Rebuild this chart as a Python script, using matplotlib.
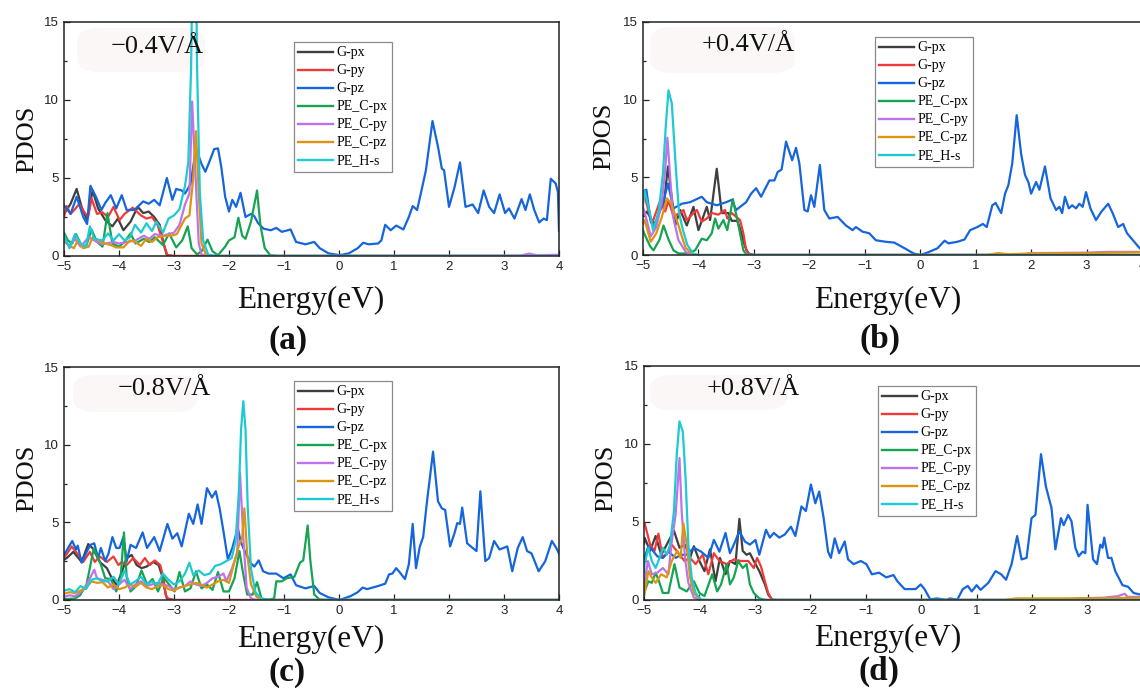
import matplotlib
matplotlib.use("Agg")
import matplotlib.pyplot as plt
from matplotlib.ticker import MultipleLocator
from matplotlib.patches import FancyBboxPatch
from matplotlib.lines import Line2D

W, H = 1140, 690

SERIES = ["G-px", "G-py", "G-pz", "PE_C-px", "PE_C-py", "PE_C-pz", "PE_H-s"]
COLORS = ["#3f3f3f", "#f03a3a", "#1565dc", "#16a352", "#bf73ea", "#dc9512", "#1fc9d2"]
FIELDS = ["\u22120.4V/\u00c5", "+0.4V/\u00c5", "\u22120.8V/\u00c5", "+0.8V/\u00c5"]
PANEL_LABELS = ["(a)", "(b)", "(c)", "(d)"]
XTICKS = [-5, -4, -3, -2, -1, 0, 1, 2, 3, 4]
YTICKS = [0, 5, 10, 15]
XLABEL = "Energy(eV)"
YLABEL = "PDOS"

# ---------------- panel (a) : -0.4 V/A ----------------
A_GPX = [(-5, 2.7), (-4.88, 3.35), (-4.77, 4.3), (-4.68, 3.15), (-4.58, 2.3), (-4.48, 4.2), (-4.38, 3.05),
         (-4.25, 2.3), (-4.12, 1.9), (-4.02, 2.4), (-3.92, 1.65), (-3.79, 2.2), (-3.66, 3.15), (-3.56, 2.75),
         (-3.46, 2.85), (-3.36, 2.5), (-3.26, 2.0), (-3.19, 0.8), (-3.13, 0.05), (-3.0, 0), (4.0, 0)]
A_GPY = [(-5, 2.5), (-4.95, 3.2), (-4.88, 2.7), (-4.8, 3.0), (-4.72, 3.35), (-4.65, 2.9), (-4.56, 2.5),
         (-4.5, 3.7), (-4.4, 2.7), (-4.3, 2.8), (-4.2, 2.5), (-4.1, 3.15), (-3.99, 2.3), (-3.9, 2.7),
         (-3.75, 3.1), (-3.6, 2.6), (-3.5, 2.4), (-3.4, 2.5), (-3.3, 2.0), (-3.2, 0.9), (-3.12, 0.05),
         (-3.0, 0), (4.0, 0)]
A_GPZ = [(-5, 3.25), (-4.88, 2.7), (-4.77, 3.8), (-4.65, 2.5), (-4.58, 2.05), (-4.52, 4.5), (-4.42, 3.8),
         (-4.32, 2.95), (-4.25, 3.4), (-4.15, 3.9), (-4.05, 3.05), (-3.95, 3.9), (-3.86, 2.95), (-3.72, 2.95),
         (-3.56, 3.5), (-3.46, 3.35), (-3.36, 3.6), (-3.26, 3.25), (-3.13, 5.0), (-3.03, 3.6), (-2.96, 4.3),
         (-2.86, 4.2), (-2.8, 4.0), (-2.7, 4.6), (-2.6, 6.9), (-2.5, 5.9), (-2.43, 5.4), (-2.35, 6.1),
         (-2.27, 6.85), (-2.2, 6.9), (-2.14, 5.7), (-2.07, 3.8), (-2.0, 2.85), (-1.94, 3.6), (-1.87, 3.15),
         (-1.79, 4.05), (-1.7, 2.5), (-1.6, 2.7), (-1.54, 2.55), (-1.47, 2.1), (-1.37, 1.75), (-1.24, 1.65),
         (-1.14, 1.8), (-1.04, 1.55), (-0.88, 1.7), (-0.78, 0.9), (-0.61, 0.75), (-0.45, 0.9), (-0.35, 0.5),
         (-0.19, 0.17), (0.01, 0.05), (0.18, 0.17), (0.34, 0.5), (0.44, 0.85), (0.54, 0.75), (0.71, 0.8),
         (0.77, 1.0), (0.84, 2.0), (0.94, 1.65), (1.04, 1.95), (1.17, 1.7), (1.27, 2.5), (1.34, 3.2),
         (1.42, 2.95), (1.5, 4.2), (1.58, 5.5), (1.7, 8.65), (1.8, 7.0), (1.87, 5.6), (1.91, 5.5),
         (2.0, 3.15), (2.1, 4.4), (2.2, 6.0), (2.3, 3.15), (2.43, 3.3), (2.53, 2.75), (2.63, 4.2),
         (2.73, 3.15), (2.82, 2.75), (2.92, 3.95), (3.02, 2.75), (3.09, 3.05), (3.19, 2.4), (3.32, 3.65),
         (3.39, 2.95), (3.47, 3.95), (3.55, 2.95), (3.64, 2.15), (3.72, 2.4), (3.78, 2.3), (3.85, 4.95),
         (3.94, 4.65), (3.98, 4.1), (4.0, 1.6)]
A_CPX = [(-5, 1.5), (-4.93, 1.0), (-4.85, 0.8), (-4.78, 1.4), (-4.7, 0.8), (-4.6, 0.6), (-4.5, 1.7),
         (-4.4, 0.9), (-4.3, 0.6), (-4.21, 2.75), (-4.12, 0.8), (-4.0, 0.6), (-3.9, 0.9), (-3.79, 1.45),
         (-3.7, 0.8), (-3.55, 1.1), (-3.45, 0.9), (-3.35, 1.2), (-3.2, 0.7), (-3.09, 1.45), (-2.96, 0.55),
         (-2.85, 1.0), (-2.75, 1.9), (-2.68, 0.5), (-2.58, 0.1), (-2.5, 0.3), (-2.39, 1.05), (-2.3, 0.3),
         (-2.2, 0.05), (-2.07, 0.6), (-2.0, 1.0), (-1.9, 1.2), (-1.83, 2.45), (-1.76, 1.3), (-1.7, 1.1),
         (-1.6, 2.2), (-1.49, 4.2), (-1.43, 2.0), (-1.35, 0.5), (-1.25, 0.05), (-1.1, 0), (4.0, 0)]
A_CPY = [(-5, 0.9), (-4.9, 0.7), (-4.8, 1.1), (-4.7, 0.6), (-4.55, 1.2), (-4.4, 0.9), (-4.3, 0.75),
         (-4.1, 0.9), (-4.0, 0.8), (-3.85, 0.9), (-3.7, 1.0), (-3.55, 1.3), (-3.45, 1.1), (-3.35, 1.4),
         (-3.2, 1.3), (-3.0, 1.5), (-2.9, 2.0), (-2.8, 3.3), (-2.72, 4.0), (-2.67, 9.9), (-2.62, 6.0),
         (-2.55, 0.8), (-2.5, 0.1), (-2.4, 0), (3.3, 0.02), (3.45, 0.15), (3.6, 0.05), (4.0, 0.08)]
A_CPZ = [(-5, 1.1), (-4.92, 0.7), (-4.82, 0.5), (-4.75, 1.0), (-4.65, 0.5), (-4.55, 0.6), (-4.48, 1.2),
         (-4.38, 1.0), (-4.25, 0.8), (-4.15, 0.7), (-4.05, 0.55), (-3.92, 0.55), (-3.8, 1.0), (-3.7, 0.9),
         (-3.6, 0.65), (-3.5, 1.1), (-3.4, 0.9), (-3.3, 1.2), (-3.15, 1.3), (-3.05, 1.3), (-2.95, 1.4),
         (-2.8, 2.4), (-2.72, 2.6), (-2.65, 5.0), (-2.6, 8.0), (-2.55, 4.0), (-2.5, 0.8), (-2.42, 0.1),
         (-2.3, 0), (4.0, 0)]
A_HS = [(-5, 1.3), (-4.9, 0.5), (-4.8, 1.4), (-4.7, 0.8), (-4.6, 0.6), (-4.53, 1.9), (-4.45, 1.1),
        (-4.3, 1.0), (-4.2, 1.45), (-4.1, 1.0), (-4.0, 1.4), (-3.9, 1.0), (-3.8, 1.2), (-3.71, 2.0),
        (-3.6, 1.5), (-3.5, 2.1), (-3.4, 1.6), (-3.32, 2.2), (-3.2, 1.5), (-3.1, 2.4), (-3.0, 2.6),
        (-2.9, 3.0), (-2.8, 4.5), (-2.74, 6.0), (-2.69, 12.0), (-2.65, 22.0), (-2.61, 22.0), (-2.58, 12.0),
        (-2.53, 4.0), (-2.47, 1.0), (-2.38, 0.1), (-2.25, 0), (4.0, 0)]

# ---------------- panel (b) : +0.4 V/A ----------------
B_GPX = [(-5, 2.5), (-4.93, 2.8), (-4.85, 2.3), (-4.78, 2.0), (-4.7, 2.8), (-4.62, 3.4), (-4.55, 5.7),
         (-4.42, 1.9), (-4.33, 2.9), (-4.21, 1.9), (-4.09, 3.1), (-4.0, 1.6), (-3.85, 3.1), (-3.79, 2.25),
         (-3.67, 5.55), (-3.58, 2.7), (-3.46, 2.7), (-3.4, 2.2), (-3.3, 2.2), (-3.25, 1.7), (-3.16, 0.55),
         (-3.1, 0.1), (-3.0, 0), (4.0, 0)]
B_GPY = [(-5, 3.75), (-4.96, 3.65), (-4.84, 2.0), (-4.69, 3.5), (-4.6, 2.8), (-4.54, 3.5), (-4.45, 2.5),
         (-4.33, 2.7), (-4.27, 2.9), (-4.21, 2.25), (-4.09, 2.7), (-4.03, 2.9), (-3.94, 2.15), (-3.85, 2.35),
         (-3.76, 2.7), (-3.64, 2.6), (-3.52, 2.9), (-3.48, 2.35), (-3.4, 2.7), (-3.25, 2.25), (-3.19, 1.4),
         (-3.14, 0.3), (-3.08, 0.05), (-3.0, 0), (4.0, 0)]
B_GPZ = [(-5, 4.1), (-4.94, 4.2), (-4.86, 2.15), (-4.79, 1.8), (-4.72, 2.7), (-4.65, 3.2), (-4.55, 4.6),
         (-4.45, 3.0), (-4.3, 3.3), (-4.15, 3.4), (-3.94, 3.75), (-3.85, 3.4), (-3.67, 3.2), (-3.5, 3.4),
         (-3.4, 3.55), (-3.32, 2.9), (-3.14, 3.4), (-3.05, 3.95), (-2.96, 4.3), (-2.87, 3.75), (-2.72, 4.8),
         (-2.63, 4.8), (-2.57, 5.35), (-2.5, 5.5), (-2.42, 7.3), (-2.31, 6.1), (-2.24, 6.9), (-2.18, 5.9),
         (-2.09, 2.9), (-2.03, 2.8), (-1.97, 3.85), (-1.91, 3.1), (-1.81, 5.8), (-1.73, 2.9), (-1.64, 2.35),
         (-1.49, 2.45), (-1.34, 1.9), (-1.22, 1.6), (-1.16, 1.8), (-1.04, 1.5), (-0.92, 1.4), (-0.8, 0.95),
         (-0.62, 0.85), (-0.47, 0.8), (-0.28, 0.43), (-0.12, 0.1), (0.0, 0.0), (0.14, 0.17), (0.31, 0.43),
         (0.44, 0.92), (0.51, 0.75), (0.67, 0.85), (0.8, 1.0), (0.9, 1.6), (1.03, 1.8), (1.13, 2.0),
         (1.2, 1.8), (1.3, 3.2), (1.36, 3.35), (1.46, 2.7), (1.53, 3.95), (1.59, 4.5), (1.66, 5.9),
         (1.74, 9.0), (1.82, 6.5), (1.89, 5.15), (1.95, 4.7), (2.0, 3.95), (2.09, 4.7), (2.15, 4.2),
         (2.25, 5.7), (2.35, 3.65), (2.45, 2.9), (2.51, 3.1), (2.56, 2.7), (2.61, 3.75), (2.68, 3.0),
         (2.74, 3.2), (2.81, 3.0), (2.87, 3.3), (2.93, 3.1), (2.99, 4.05), (3.07, 3.0), (3.17, 2.25),
         (3.27, 2.8), (3.39, 3.3), (3.47, 2.7), (3.57, 1.8), (3.66, 2.0), (3.73, 1.4), (3.86, 0.85),
         (3.96, 0.43), (4.0, 0.35)]
B_CPX = [(-5, 1.6), (-4.98, 1.4), (-4.87, 0.55), (-4.81, 0.3), (-4.7, 1.0), (-4.63, 1.9), (-4.54, 1.0),
         (-4.45, 0.3), (-4.36, 0.1), (-4.2, 0.1), (-4.06, 0.3), (-3.94, 1.05), (-3.85, 0.95), (-3.76, 1.4),
         (-3.7, 2.35), (-3.64, 1.7), (-3.55, 2.25), (-3.48, 1.6), (-3.38, 3.6), (-3.31, 2.45), (-3.25, 1.4),
         (-3.19, 0.3), (-3.14, 0.05), (-3.0, 0), (4.0, 0)]
B_CPY = [(-5, 3.1), (-4.93, 2.2), (-4.86, 1.2), (-4.76, 1.8), (-4.66, 3.4), (-4.6, 5.5), (-4.56, 7.55),
         (-4.5, 4.5), (-4.46, 2.5), (-4.36, 0.95), (-4.23, 0.2), (-4.1, 0), (1.8, 0), (2.0, 0.12),
         (3.0, 0.15), (3.4, 0.2), (4.0, 0.2)]
B_CPZ = [(-5, 2.0), (-4.97, 2.25), (-4.86, 0.85), (-4.76, 1.4), (-4.66, 2.45), (-4.57, 3.65), (-4.49, 3.3),
         (-4.39, 2.25), (-4.3, 1.2), (-4.23, 0.45), (-4.1, 0.05), (-4.0, 0), (1.2, 0), (1.4, 0.12),
         (1.6, 0.05), (2.0, 0.1), (3.0, 0.12), (4.0, 0.18)]
B_HS = [(-5, 3.2), (-4.97, 4.15), (-4.86, 2.45), (-4.82, 1.6), (-4.72, 2.7), (-4.64, 5.25), (-4.59, 8.25),
        (-4.54, 10.6), (-4.48, 9.75), (-4.41, 5.7), (-4.35, 2.7), (-4.28, 1.6), (-4.2, 0.65), (-4.1, 0.1),
        (-4.0, 0), (4.0, 0)]

# ---------------- panel (c) : -0.8 V/A ----------------
C_GPX = [(-5, 2.6), (-4.95, 2.7), (-4.83, 3.1), (-4.68, 2.45), (-4.56, 3.6), (-4.47, 3.3), (-4.35, 2.45),
         (-4.22, 2.05), (-4.13, 1.4), (-4.04, 0.95), (-3.95, 1.8), (-3.86, 2.7), (-3.77, 2.9), (-3.68, 2.25),
         (-3.59, 2.05), (-3.5, 2.15), (-3.38, 2.45), (-3.28, 2.25), (-3.22, 1.6), (-3.18, 0.85), (-3.13, 0.1),
         (-3.0, 0), (4.0, 0)]
C_GPY = [(-5, 2.7), (-4.98, 2.8), (-4.86, 3.45), (-4.74, 2.9), (-4.65, 2.45), (-4.53, 3.1), (-4.44, 2.45),
         (-4.35, 2.8), (-4.22, 2.45), (-4.1, 2.8), (-4.01, 2.25), (-3.95, 2.45), (-3.86, 2.25), (-3.74, 2.7),
         (-3.62, 2.25), (-3.53, 2.7), (-3.44, 2.25), (-3.35, 2.55), (-3.25, 2.25), (-3.19, 1.4), (-3.15, 0.3),
         (-3.1, 0.05), (-3.0, 0), (4.0, 0)]
C_GPZ = [(-5, 2.9), (-4.91, 3.45), (-4.85, 3.8), (-4.78, 3.25), (-4.75, 3.5), (-4.68, 2.4), (-4.58, 3.15),
         (-4.52, 3.55), (-4.45, 3.65), (-4.38, 2.7), (-4.33, 3.35), (-4.25, 2.5), (-4.19, 3.0), (-4.12, 4.05),
         (-4.05, 3.35), (-3.99, 3.35), (-3.92, 4.05), (-3.86, 2.5), (-3.79, 3.55), (-3.69, 3.35), (-3.57, 4.35),
         (-3.49, 3.35), (-3.36, 4.05), (-3.26, 3.15), (-3.12, 4.9), (-3.03, 3.95), (-2.94, 4.3), (-2.86, 3.45),
         (-2.73, 5.55), (-2.65, 4.9), (-2.57, 6.15), (-2.5, 4.9), (-2.4, 7.2), (-2.31, 6.6), (-2.24, 7.0),
         (-2.17, 5.9), (-2.1, 4.4), (-2.02, 2.6), (-1.94, 3.35), (-1.84, 4.65), (-1.79, 3.8), (-1.74, 3.35),
         (-1.61, 2.4), (-1.54, 2.15), (-1.46, 2.55), (-1.38, 1.85), (-1.28, 1.7), (-1.14, 1.7), (-1.01, 1.4),
         (-0.88, 1.65), (-0.78, 0.95), (-0.61, 0.75), (-0.45, 0.9), (-0.35, 0.45), (-0.19, 0.17), (0.01, 0.0),
         (0.21, 0.25), (0.34, 0.5), (0.43, 0.8), (0.51, 0.7), (0.71, 0.9), (0.84, 1.05), (0.91, 1.65),
         (0.97, 1.7), (1.04, 2.05), (1.1, 1.8), (1.2, 1.35), (1.27, 2.3), (1.34, 4.9), (1.4, 2.05),
         (1.47, 3.45), (1.53, 4.05), (1.6, 6.35), (1.71, 9.55), (1.8, 6.35), (1.87, 5.9), (1.93, 5.8),
         (2.02, 3.45), (2.1, 4.3), (2.15, 4.95), (2.2, 4.9), (2.24, 5.95), (2.33, 3.65), (2.43, 3.35),
         (2.5, 3.15), (2.57, 7.0), (2.66, 2.5), (2.73, 2.7), (2.82, 3.8), (2.92, 3.25), (3.06, 3.45),
         (3.15, 1.85), (3.25, 3.35), (3.34, 4.05), (3.42, 3.15), (3.5, 3.0), (3.63, 1.85), (3.75, 2.5),
         (3.87, 3.8), (3.95, 3.35), (4.0, 3.0)]
C_CPX = [(-5, 0.05), (-4.8, 0.1), (-4.71, 0.3), (-4.59, 1.0), (-4.46, 3.3), (-4.35, 2.5), (-4.25, 1.4),
         (-4.15, 1.35), (-4.05, 0.55), (-3.97, 1.45), (-3.91, 4.35), (-3.86, 1.45), (-3.79, 0.55), (-3.69, 0.9),
         (-3.59, 1.9), (-3.49, 1.0), (-3.39, 1.35), (-3.29, 0.55), (-3.19, 1.45), (-3.09, 1.0), (-2.99, 0.55),
         (-2.9, 1.8), (-2.8, 0.55), (-2.7, 0.75), (-2.6, 1.85), (-2.5, 0.75), (-2.4, 1.0), (-2.3, 0.65),
         (-2.2, 1.8), (-2.1, 0.55), (-2.0, 0.55), (-1.9, 1.4), (-1.81, 3.15), (-1.75, 1.85), (-1.67, 0.35),
         (-1.57, 0.35), (-1.49, 1.15), (-1.41, 0.1), (-1.28, 0.02), (-1.18, 0.1), (-1.14, 1.2), (-1.04, 1.2),
         (-0.95, 1.4), (-0.81, 1.5), (-0.71, 2.4), (-0.65, 2.55), (-0.57, 4.8), (-0.52, 2.5), (-0.45, 0.35),
         (-0.35, 0.02), (-0.2, 0), (4.0, 0)]
C_CPY = [(-5, 0.2), (-4.9, 0.3), (-4.8, 0.25), (-4.7, 0.5), (-4.6, 0.9), (-4.45, 1.95), (-4.4, 1.4),
         (-4.3, 1.3), (-4.2, 1.2), (-4.1, 0.7), (-4.0, 1.0), (-3.9, 1.3), (-3.8, 0.7), (-3.7, 1.0), (-3.6, 1.2),
         (-3.5, 0.9), (-3.4, 1.0), (-3.3, 1.1), (-3.2, 1.0), (-3.1, 0.9), (-3.0, 0.7), (-2.9, 0.8), (-2.8, 0.9),
         (-2.7, 1.2), (-2.6, 1.0), (-2.5, 0.9), (-2.4, 1.1), (-2.3, 1.4), (-2.2, 1.5), (-2.1, 1.7),
         (-2.05, 1.2), (-1.95, 2.0), (-1.85, 3.0), (-1.8, 8.2), (-1.74, 4.0), (-1.68, 0.8), (-1.6, 0.1),
         (-1.5, 0), (4.0, 0)]
C_CPZ = [(-5, 0.4), (-4.9, 0.5), (-4.8, 0.45), (-4.7, 0.6), (-4.6, 0.8), (-4.5, 1.2), (-4.4, 1.1),
         (-4.3, 1.15), (-4.2, 0.8), (-4.1, 1.0), (-4.0, 0.7), (-3.9, 0.8), (-3.8, 1.0), (-3.7, 0.85),
         (-3.6, 1.1), (-3.5, 0.8), (-3.4, 0.7), (-3.3, 0.9), (-3.2, 0.95), (-3.1, 0.7), (-3.0, 0.6),
         (-2.9, 0.8), (-2.8, 0.9), (-2.7, 1.0), (-2.6, 1.1), (-2.5, 1.0), (-2.4, 0.8), (-2.3, 1.0),
         (-2.2, 1.2), (-2.1, 1.3), (-2.0, 1.1), (-1.9, 2.5), (-1.82, 3.5), (-1.76, 4.0), (-1.72, 5.9),
         (-1.67, 3.0), (-1.6, 1.0), (-1.5, 0.2), (-1.4, 0.02), (-1.3, 0), (4.0, 0)]
C_HS = [(-5, 0.6), (-4.9, 0.7), (-4.8, 0.5), (-4.7, 0.9), (-4.6, 0.7), (-4.5, 1.3), (-4.4, 1.4),
        (-4.3, 1.2), (-4.2, 1.2), (-4.1, 1.5), (-4.0, 1.0), (-3.9, 1.9), (-3.8, 1.0), (-3.7, 1.2),
        (-3.6, 1.5), (-3.5, 1.0), (-3.4, 1.2), (-3.3, 1.0), (-3.2, 1.7), (-3.1, 1.3), (-3.0, 1.0),
        (-2.9, 1.2), (-2.8, 1.7), (-2.72, 2.4), (-2.65, 1.6), (-2.55, 1.9), (-2.45, 1.6), (-2.35, 1.7),
        (-2.25, 2.2), (-2.15, 2.3), (-2.05, 2.5), (-1.95, 2.7), (-1.88, 3.8), (-1.82, 7.0), (-1.78, 11.0),
        (-1.74, 12.8), (-1.7, 11.0), (-1.66, 6.0), (-1.6, 2.0), (-1.52, 0.5), (-1.4, 0.05), (-1.3, 0),
        (4.0, 0)]

# ---------------- panel (d) : +0.8 V/A ----------------
D_GPX = [(-5, 3.6), (-4.99, 4.0), (-4.89, 3.15), (-4.79, 4.1), (-4.69, 2.9), (-4.59, 3.55), (-4.46, 4.45),
         (-4.36, 3.35), (-4.26, 3.55), (-4.17, 2.7), (-4.1, 3.45), (-4.0, 2.5), (-3.91, 1.85), (-3.81, 3.25),
         (-3.71, 1.2), (-3.63, 2.7), (-3.53, 1.65), (-3.45, 2.5), (-3.35, 2.3), (-3.28, 5.2), (-3.22, 3.15),
         (-3.15, 2.9), (-3.09, 3.0), (-3.02, 2.5), (-2.92, 1.85), (-2.82, 1.0), (-2.76, 0.35), (-2.69, 0.02),
         (-2.6, 0), (4.0, 0)]
D_GPY = [(-5, 4.8), (-4.99, 4.95), (-4.89, 3.55), (-4.81, 3.15), (-4.74, 4.25), (-4.66, 2.7), (-4.56, 3.1),
         (-4.5, 3.55), (-4.4, 3.1), (-4.27, 2.5), (-4.17, 2.7), (-4.07, 2.3), (-3.94, 2.9), (-3.84, 1.65),
         (-3.74, 3.0), (-3.64, 2.5), (-3.51, 2.3), (-3.38, 2.6), (-3.25, 2.5), (-3.12, 2.5), (-3.02, 2.05),
         (-2.96, 2.7), (-2.89, 2.15), (-2.82, 1.2), (-2.76, 0.45), (-2.69, 0.02), (-2.6, 0), (4.0, 0)]
D_GPZ = [(-5, 2.6), (-4.92, 3.45), (-4.86, 3.25), (-4.76, 2.8), (-4.66, 2.7), (-4.56, 3.1), (-4.43, 2.7),
         (-4.33, 2.9), (-4.23, 2.9), (-4.1, 3.35), (-3.97, 3.1), (-3.84, 2.7), (-3.74, 3.85), (-3.64, 3.1),
         (-3.53, 4.3), (-3.45, 3.0), (-3.38, 3.55), (-3.28, 4.4), (-3.18, 3.75), (-3.09, 3.55), (-2.99, 3.85),
         (-2.92, 2.9), (-2.8, 4.5), (-2.73, 4.0), (-2.66, 4.3), (-2.56, 4.0), (-2.46, 4.2), (-2.35, 4.7),
         (-2.27, 4.1), (-2.16, 6.0), (-2.08, 5.7), (-1.99, 7.4), (-1.91, 6.2), (-1.84, 6.95), (-1.76, 5.25),
         (-1.68, 3.1), (-1.63, 2.7), (-1.56, 3.95), (-1.48, 3.0), (-1.38, 3.75), (-1.32, 2.6), (-1.22, 2.3),
         (-1.09, 2.5), (-0.99, 2.3), (-0.89, 1.65), (-0.76, 1.75), (-0.63, 1.45), (-0.5, 1.6), (-0.43, 1.2),
         (-0.3, 0.7), (-0.1, 0.7), (-0.01, 1.0), (0.06, 0.7), (0.16, 0.05), (0.29, 0.1), (0.45, 0.0),
         (0.52, 0.1), (0.65, 0.02), (0.75, 0.7), (0.84, 0.9), (0.91, 0.55), (1.0, 0.95), (1.07, 0.65),
         (1.21, 1.1), (1.34, 1.85), (1.44, 1.65), (1.53, 1.3), (1.63, 2.3), (1.73, 4.1), (1.81, 2.6),
         (1.9, 2.7), (1.99, 5.25), (2.06, 5.45), (2.16, 9.35), (2.25, 7.25), (2.35, 5.9), (2.42, 3.25),
         (2.52, 5.25), (2.57, 4.8), (2.65, 5.45), (2.71, 5.05), (2.78, 3.35), (2.84, 2.8), (2.91, 3.1),
         (2.96, 3.0), (3.0, 6.1), (3.1, 2.6), (3.17, 2.3), (3.23, 3.55), (3.27, 3.35), (3.3, 4.0),
         (3.37, 2.7), (3.43, 2.7), (3.5, 1.85), (3.63, 0.95), (3.73, 0.85), (3.83, 0.45), (3.95, 0.35),
         (4.0, 0.3)]
D_CPX = [(-5, 0.3), (-4.99, 0.55), (-4.92, 1.2), (-4.86, 1.1), (-4.79, 1.75), (-4.72, 1.1), (-4.66, 0.45),
         (-4.56, 0.45), (-4.45, 2.3), (-4.36, 0.8), (-4.23, 0.55), (-4.1, 1.2), (-4.0, 0.45), (-3.91, 0.25),
         (-3.77, 1.65), (-3.68, 0.55), (-3.61, 1.0), (-3.51, 2.3), (-3.45, 1.0), (-3.38, 1.45), (-3.3, 2.5),
         (-3.22, 2.05), (-3.15, 2.3), (-3.09, 1.0), (-3.02, 0.45), (-2.92, 0.1), (-2.8, 0), (4.0, 0)]
D_CPY = [(-5, 0.9), (-4.99, 1.1), (-4.93, 2.5), (-4.86, 1.65), (-4.76, 1.75), (-4.66, 2.05), (-4.56, 1.65),
         (-4.5, 3.75), (-4.43, 5.45), (-4.36, 9.1), (-4.32, 5.65), (-4.26, 2.7), (-4.2, 1.1), (-4.1, 0.15),
         (-4.0, 0), (2.5, 0), (2.8, 0.1), (3.3, 0.15), (3.55, 0.25), (3.67, 0.4), (3.72, 0.2), (4.0, 0.2)]
D_CPZ = [(-5, 0.3), (-4.99, 0.45), (-4.92, 1.85), (-4.86, 1.45), (-4.79, 1.1), (-4.69, 1.65), (-4.59, 1.45),
         (-4.5, 2.5), (-4.4, 3.15), (-4.34, 2.7), (-4.29, 4.9), (-4.23, 3.55), (-4.17, 1.45), (-4.1, 0.45),
         (-4.0, 0.02), (-3.9, 0), (1.5, 0), (1.7, 0.1), (2.5, 0.1), (3.5, 0.12), (4.0, 0.15)]
D_HS = [(-5, 1.8), (-4.99, 2.3), (-4.92, 3.35), (-4.86, 2.5), (-4.79, 2.05), (-4.72, 2.7), (-4.66, 3.35),
        (-4.59, 2.9), (-4.53, 3.55), (-4.46, 5.7), (-4.41, 9.3), (-4.36, 11.45), (-4.3, 10.8), (-4.25, 7.8),
        (-4.2, 3.55), (-4.14, 1.45), (-4.07, 0.45), (-3.97, 0.02), (-3.8, 0), (4.0, 0)]

PANELS_DATA = [
    [A_GPX, A_GPY, A_GPZ, A_CPX, A_CPY, A_CPZ, A_HS],
    [B_GPX, B_GPY, B_GPZ, B_CPX, B_CPY, B_CPZ, B_HS],
    [C_GPX, C_GPY, C_GPZ, C_CPX, C_CPY, C_CPZ, C_HS],
    [D_GPX, D_GPY, D_GPZ, D_CPX, D_CPY, D_CPZ, D_HS],
]

# ---------------- layout (pixels) ----------------
AX_BOX = [(64, 22, 559, 256), (643, 22, 1142, 255), (64, 367, 559, 600), (644, 366, 1143, 600)]
LEG_POS = [(294, 42), (875, 37), (294, 381), (878, 386)]
FIELD_POS = [(157, 47), (748, 45), (164, 389), (753, 389)]
BLOB = [(77, 28, 205, 72), (650, 27, 795, 73), (73, 375, 197, 412), (650, 375, 787, 410)]
YLAB_POS = [(27, 139), (604, 136), (27, 478), (606, 478)]
XLAB_POS = [(311, 300), (888, 300), (311, 639), (888, 638)]
PLAB_POS = [(288, 341), (880, 339), (287, 673), (879, 671)]

SERIF = ["Liberation Serif", "DejaVu Serif"]
SANS = ["Liberation Sans", "DejaVu Sans"]


def fx(p):
    return p / W


def fy(p):
    return 1 - p / H


fig = plt.figure(figsize=(W / 100, H / 100), dpi=100)
fig.patch.set_facecolor("white")

for i in range(4):
    l, t, r, b = AX_BOX[i]
    ax = fig.add_axes([fx(l), fy(b), (r - l) / W, (b - t) / H])
    ax.set_xlim(-5, 4)
    ax.set_ylim(0, 15)
    bx0, by0, bx1, by1 = BLOB[i]
    ax.add_patch(FancyBboxPatch((fx(bx0), fy(by1)), (bx1 - bx0) / W, (by1 - by0) / H,
                                boxstyle="round,pad=0,rounding_size=0.02",
                                transform=fig.transFigure, facecolor="#fcf7f7",
                                edgecolor="none", zorder=0.5))
    for k, pts in enumerate(PANELS_DATA[i]):
        xs = [p[0] for p in pts]
        ys = [p[1] for p in pts]
        ax.plot(xs, ys, color=COLORS[k], lw=1.6, solid_joinstyle="round", zorder=2 + k * 0.01)
    ax.set_xticks(XTICKS)
    ax.set_yticks(YTICKS)
    ax.yaxis.set_minor_locator(MultipleLocator(2.5))
    ax.tick_params(which="both", direction="in", top=False, right=False, width=0.9, colors="#222222")
    ax.tick_params(which="major", length=4, pad=3.5, labelsize=9.5)
    ax.tick_params(which="minor", length=2.5)
    for lab in ax.get_xticklabels() + ax.get_yticklabels():
        lab.set_fontfamily(SANS)
        lab.set_color("#222222")
    for sp in ax.spines.values():
        sp.set_linewidth(1.1)
        sp.set_color("#222222")

    handles = [Line2D([0], [0], color=COLORS[k], lw=1.7) for k in range(len(SERIES))]
    lx, ly = LEG_POS[i]
    leg = ax.legend(handles, SERIES, loc="upper left", bbox_to_anchor=(fx(lx), fy(ly)),
                    bbox_transform=fig.transFigure, prop={"family": SERIF, "size": 10},
                    handlelength=2.5, handletextpad=0.25, labelspacing=0.36, borderpad=0.32,
                    borderaxespad=0, frameon=True, fancybox=False, framealpha=1)
    leg.get_frame().set_edgecolor("#8a8a8a")
    leg.get_frame().set_linewidth(0.9)

    tx, ty = FIELD_POS[i]
    fig.text(fx(tx), fy(ty), FIELDS[i], family=SERIF, fontsize=19, ha="center", va="center",
             color="#111111", zorder=5)
    yx, yy = YLAB_POS[i]
    fig.text(fx(yx), fy(yy), YLABEL, family=SERIF, fontsize=19, rotation=90, ha="center",
             va="center", color="#111111")
    ex, ey = XLAB_POS[i]
    fig.text(fx(ex), fy(ey), XLABEL, family=SERIF, fontsize=22.5, ha="center", va="center",
             color="#111111")
    px, py = PLAB_POS[i]
    fig.text(fx(px), fy(py), PANEL_LABELS[i], family=SERIF, fontsize=24, fontweight="bold",
             ha="center", va="center", color="#111111")

fig.savefig("out.png", dpi=100, facecolor="white")
